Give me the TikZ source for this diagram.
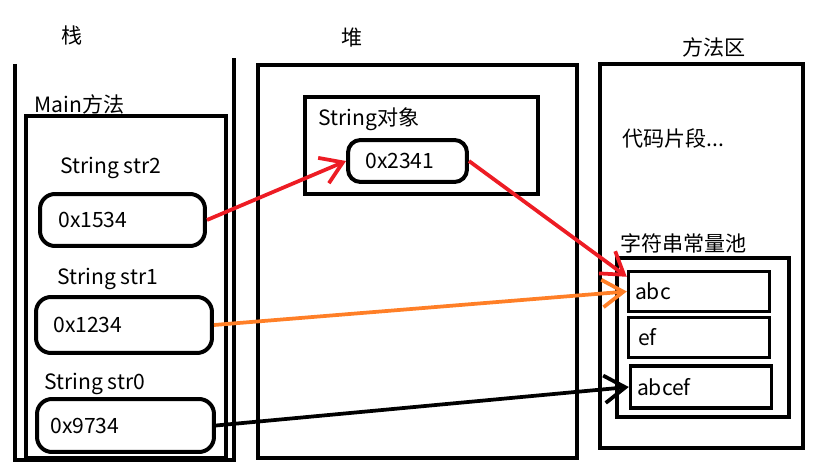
\documentclass[tikz,border=0pt]{standalone}
\usepackage{fontspec}
\setmainfont{Noto Sans CJK SC}
\usetikzlibrary{arrows.meta,positioning}
\definecolor{penred}{HTML}{ED1C24}
\definecolor{penorange}{HTML}{FF7F27}
\begin{document}
\begin{tikzpicture}[x=0.02cm, y=-0.02cm,
    region/.style={rectangle, draw, line width=0.08cm, inner sep=0},
    slot/.style={rectangle, draw, line width=0.08cm, rounded corners=0.3cm, inner sep=0},
    cell/.style={rectangle, draw, line width=0.07cm, inner sep=0, minimum width=2.82cm, minimum height=0.8cm},
    txt/.style={inner sep=0, font=\fontsize{12}{14}\selectfont},
    arrow/.style={-{Straight Barb[length=0.42cm, width=0.55cm]}, line width=0.075cm}
]
    \useasboundingbox (0,0) rectangle (815,476);

    % Left side: stack
    \node[txt] (stackT) at (72,35) {栈};
    \draw[line width=0.09cm] (15,64) -- (15,460) -- (234,460) -- (234,58);
    \node[region, minimum width=4cm, minimum height=6.84cm] (main) at (126,287) {};
    \node[txt, anchor=west] (mainT) at (34,104) {Main方法};

    \node[txt, anchor=west] (v2) at (60,168) {String str2};
    \node[slot, minimum width=3.3cm, minimum height=1.04cm] (s2) at (122.5,220) {};
    \node[txt, right=0.4cm of s2.west] (a2) {0x1534};

    \node[txt, anchor=west] (v1) at (57,279) {String str1};
    \node[slot, minimum width=3.52cm, minimum height=1.12cm] (s1) at (124,325) {};
    \node[txt, right=0.38cm of s1.west] (a1) {0x1234};

    \node[txt, anchor=west] (v0) at (44,384) {String str0};
    \node[slot, minimum width=3.54cm, minimum height=1.06cm] (s0) at (125.5,425.5) {};
    \node[txt, right=0.3cm of s0.west] (a0) {0x9734};

    % Middle: heap
    \node[txt] (heapT) at (352,38) {堆};
    \node[region, minimum width=6.38cm, minimum height=7.86cm] (heap) at (417.5,261.5) {};
    \node[region, minimum width=4.66cm, minimum height=1.94cm] (obj) at (421.5,145.5) {};
    \node[txt, anchor=west] (objT) at (318,119) {String对象};
    \node[slot, rounded corners=0.25cm, minimum width=2.38cm, minimum height=0.84cm] (addr) at (407.5,161) {};
    \node[txt, right=0.38cm of addr.west] (addrT) {0x2341};

    % Right side: method area
    \node[txt] (methT) at (714,47) {方法区};
    \node[region, minimum width=4.06cm, minimum height=7.68cm] (meth) at (701.5,256) {};
    \node[txt, anchor=west] (code) at (622,138) {代码片段...};
    \node[txt, anchor=west] (poolT) at (620,243) {字符串常量池};
    \node[region, minimum width=3.44cm, minimum height=3.18cm] (pool) at (703,337.5) {};
    \node[cell] (abc) at (699,291.5) {};
    \node[txt, right=0.16cm of abc.west] {abc};
    \node[cell] (ef) at (699,337.5) {};
    \node[txt, right=0.22cm of ef.west] {ef};
    \node[cell, minimum height=0.84cm] (abcef) at (701,387) {};
    \node[txt, right=0.16cm of abcef.west] {abcef};

    % References
    \draw[arrow, penred] (s2.east) -- (addr.west);
    \draw[arrow, penred] (addr.east) -- ([yshift=-0.14cm]abc.north west);
    \draw[arrow, penorange] (s1.east) -- (abc.west);
    \draw[arrow, black] (s0.east) -- (abcef.west);
\end{tikzpicture}
\end{document}
